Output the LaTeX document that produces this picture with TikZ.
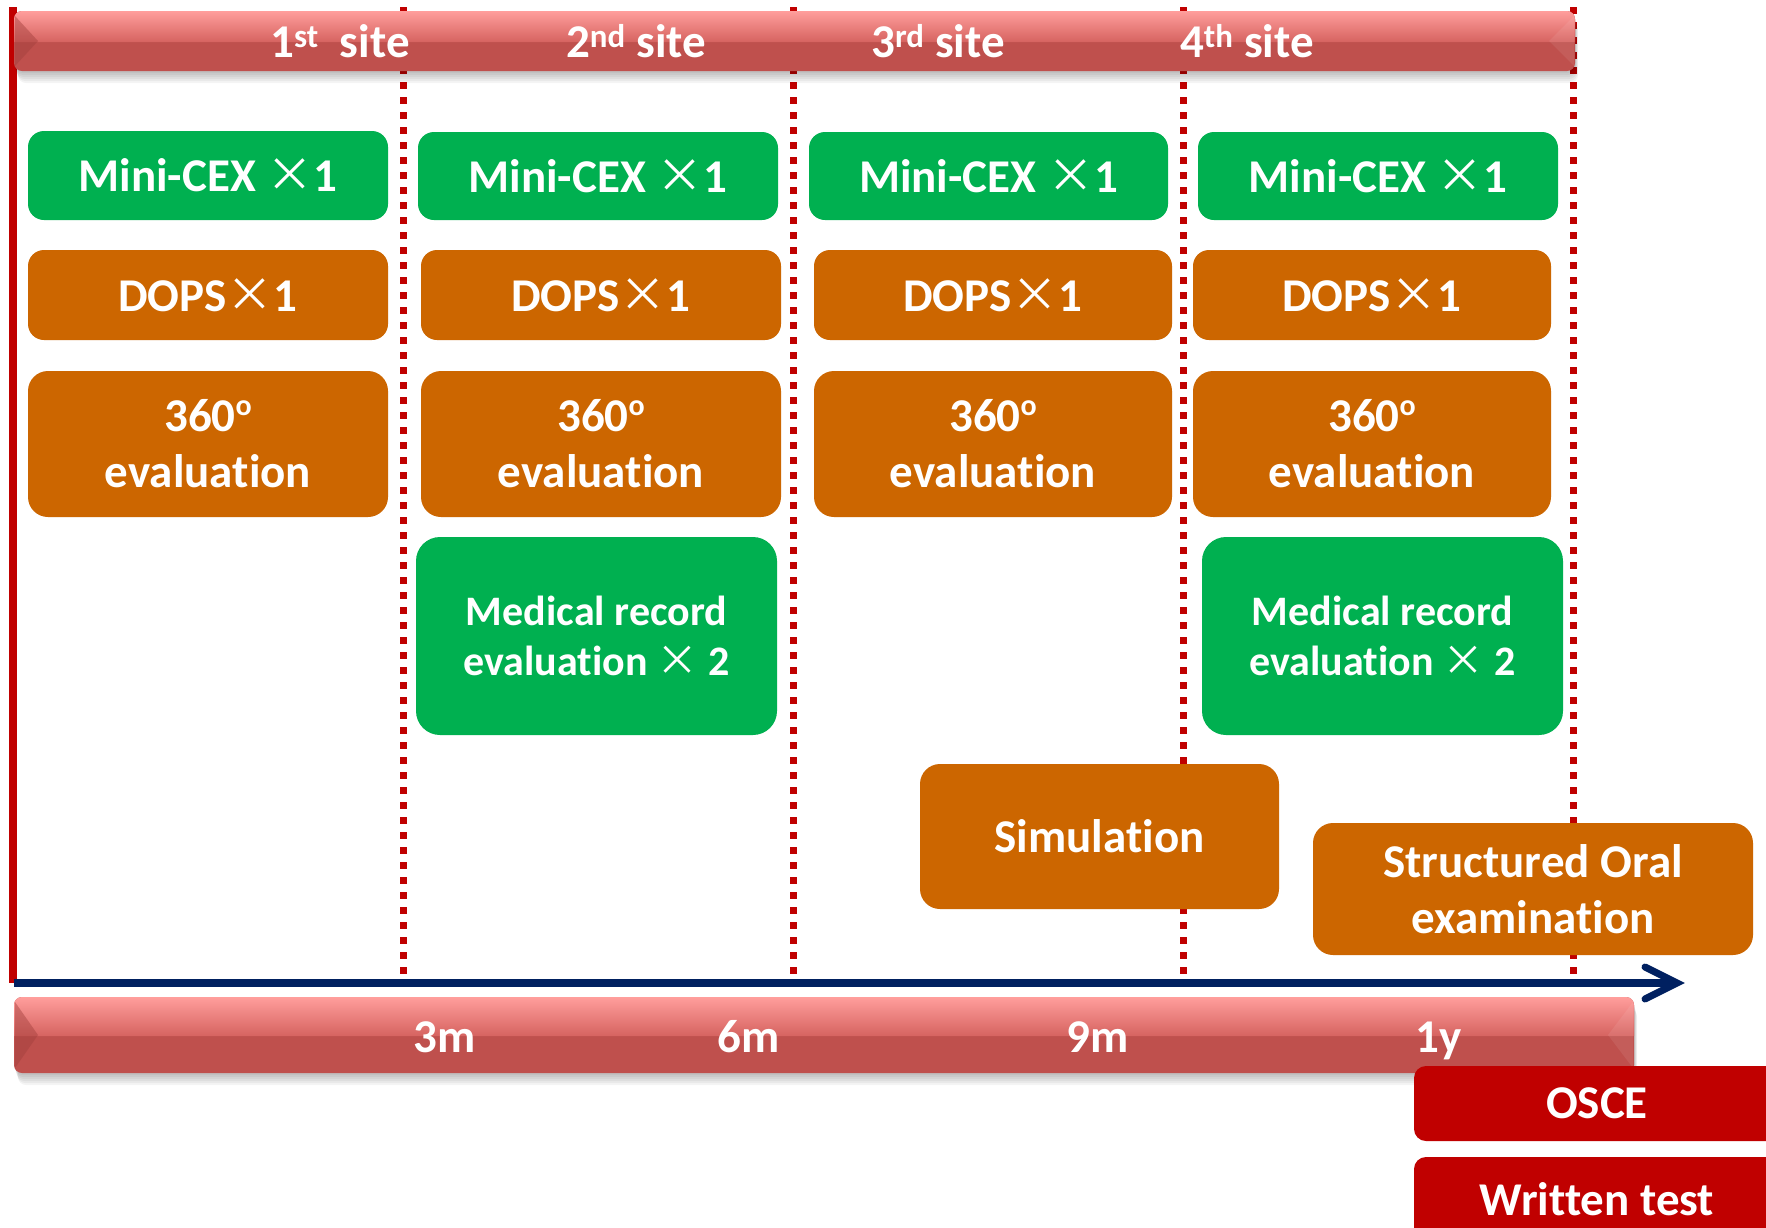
\documentclass[tikz,border=0pt]{standalone}
\usepackage{fontspec}
\setmainfont{Carlito}[Ligatures=NoCommon]
\newfontfamily\crossfont{Noto Sans CJK SC}
\usetikzlibrary{arrows.meta}

\definecolor{boxgreen}{HTML}{00B050}
\definecolor{boxorange}{HTML}{CC6600}
\definecolor{examred}{HTML}{C00000}
\definecolor{barred}{HTML}{BF504D}
\definecolor{barlight}{HTML}{FF9E9C}
\definecolor{barmid}{HTML}{D66360}
\definecolor{bardark}{HTML}{A23F3C}
\definecolor{axisblue}{HTML}{002060}

% thin full-width multiplication sign
\newcommand{\tms}{{\crossfont\mdseries ×}}
% small raised degree-style o
\newcommand{\dego}{\raisebox{16pt}{\fontsize{30}{30}\selectfont o}}

% glossy ribbon bar: x1, y1, x2, y2
\newcommand{\ribbon}[4]{%
  \pgfmathsetmacro\rmid{(#2+#4)/2+1}%
  \foreach \s in {2,4,...,12}{%
    \fill[black, opacity=0.045, rounded corners=8pt] (#1+\s/3,#2+\s) rectangle (#3+\s/4,#4+\s);}
  \fill[barred, rounded corners=8pt] (#1,#2) rectangle (#3,#4);
  \shade[top color=barlight, bottom color=barmid]
    (#1,\rmid) [rounded corners=8pt] -- (#1,#2) -- (#3,#2) [sharp corners] -- (#3,\rmid) -- cycle;
  \fill[bardark, opacity=0.45] (#1+1,#2+5) -- (#1+24,\rmid-1) -- (#1+1,#4-5) -- cycle;
  \fill[white, opacity=0.08] (#3-1,#2+5) -- (#3-26,\rmid-1) -- (#3-1,#4-5) -- cycle;
}

\begin{document}
\begin{tikzpicture}[x=1pt,y=-1pt,
  lbl/.style={text=white, font=\fontsize{47}{56}\selectfont\bfseries, inner sep=0pt},
  tile/.style={rounded corners=16pt, text=white, align=center, inner sep=0pt,
    font=\fontsize{47}{56}\selectfont\bfseries},
  gtile/.style={tile, fill=boxgreen},
  otile/.style={tile, fill=boxorange},
  rtile/.style={tile, fill=examred, rounded corners=12pt},
  sitediv/.style={examred, line width=7pt, dash pattern=on 6.5pt off 8.5pt},
  axisline/.style={axisblue, line width=8pt},
]
\useasboundingbox (0,0) rectangle (1766,1227);
\clip (0,0) rectangle (1766,1227);
\fill[white] (0,0) rectangle (1766,1227);

% site boundaries
\coordinate (v0t) at (13,7);    \coordinate (v0b) at (13,983);
\coordinate (v1t) at (403,7);   \coordinate (v1b) at (403,976);
\coordinate (v2t) at (793,7);   \coordinate (v2b) at (793,976);
\coordinate (v3t) at (1183,7);  \coordinate (v3b) at (1183,976);
\coordinate (v4t) at (1573,7);  \coordinate (v4b) at (1573,976);
\draw[examred, line width=8pt] (v0t) -- (v0b);
\foreach \i in {1,...,4} \draw[sitediv] (v\i t) -- (v\i b);

% time axis
\coordinate (axstart) at (14,983);
\coordinate (axend) at (1674,983);
\coordinate (axtip) at (1677,983);
\draw[axisline] (axstart) -- (axend);
\draw[axisline, line width=7pt, line cap=round, line join=miter] (axtip) ++(-32,-16) -- (axtip) -- ++(-32,16);

% ribbons
\ribbon{14}{11}{1575}{71}
\ribbon{14}{997}{1634}{1073}

\node[lbl, anchor=base] (s1) at (340,57) {1\textsuperscript{st}\hspace{0.45em}site};
\node[lbl, anchor=base] (s2) at (636,57) {2\textsuperscript{nd} site};
\node[lbl, anchor=base] (s3) at (938,57) {3\textsuperscript{rd} site};
\node[lbl, anchor=base] (s4) at (1247,57) {4\textsuperscript{th} site};

\node[lbl, anchor=base] (t1) at (445,1052) {3m};
\node[lbl, anchor=base] (t2) at (749,1052) {6m};
\node[lbl, anchor=base] (t3) at (1098,1052) {9m};
\node[lbl, anchor=base] (t4) at (1439,1052) {1y};

% first site
\node[gtile, minimum width=360pt, minimum height=89pt] (mc1) at (208,175.5) {Mini-CEX \tms1};
\node[otile, minimum width=360pt, minimum height=90pt] (dp1) at (208,295) {DOPS\tms1};
\node[otile, minimum width=360pt, minimum height=146pt, rounded corners=20pt] (ev1) at (208,444) {360\dego\\evaluation};

% second site
\node[gtile, minimum width=360pt, minimum height=88pt] (mc2) at (598,176) {Mini-CEX \tms1};
\node[otile, minimum width=360pt, minimum height=90pt] (dp2) at (601,295) {DOPS\tms1};
\node[otile, minimum width=360pt, minimum height=146pt, rounded corners=20pt] (ev2) at (601,444) {360\dego\\evaluation};
\node[gtile, minimum width=361pt, minimum height=198pt, rounded corners=24pt,
  font=\fontsize{42}{50}\selectfont\bfseries] (mr2) at (596.5,636) {Medical record\\evaluation \tms{} 2};

% third site
\node[gtile, minimum width=359pt, minimum height=88pt] (mc3) at (988.5,176) {Mini-CEX \tms1};
\node[otile, minimum width=358pt, minimum height=90pt] (dp3) at (993,295) {DOPS\tms1};
\node[otile, minimum width=358pt, minimum height=146pt, rounded corners=20pt] (ev3) at (993,444) {360\dego\\evaluation};
\node[otile, minimum width=359pt, minimum height=145pt, rounded corners=20pt] (sim) at (1099.5,836.5) {Simulation};

% fourth site
\node[gtile, minimum width=360pt, minimum height=88pt] (mc4) at (1378,176) {Mini-CEX \tms1};
\node[otile, minimum width=358pt, minimum height=90pt] (dp4) at (1372,295) {DOPS\tms1};
\node[otile, minimum width=358pt, minimum height=146pt, rounded corners=20pt] (ev4) at (1372,444) {360\dego\\evaluation};
\node[gtile, minimum width=361pt, minimum height=198pt, rounded corners=24pt,
  font=\fontsize{42}{50}\selectfont\bfseries] (mr4) at (1382.5,636) {Medical record\\evaluation \tms{} 2};
\node[otile, minimum width=440pt, minimum height=132pt, rounded corners=20pt] (soe) at (1533,889) {Structured Oral\\examination};

% final examinations
\node[rtile, minimum width=366pt, minimum height=75pt] (osce) at (1597,1103.5) {OSCE};
\node[rtile, minimum width=366pt, minimum height=84pt] (wt) at (1597,1199) {Written test};
\end{tikzpicture}
\end{document}
